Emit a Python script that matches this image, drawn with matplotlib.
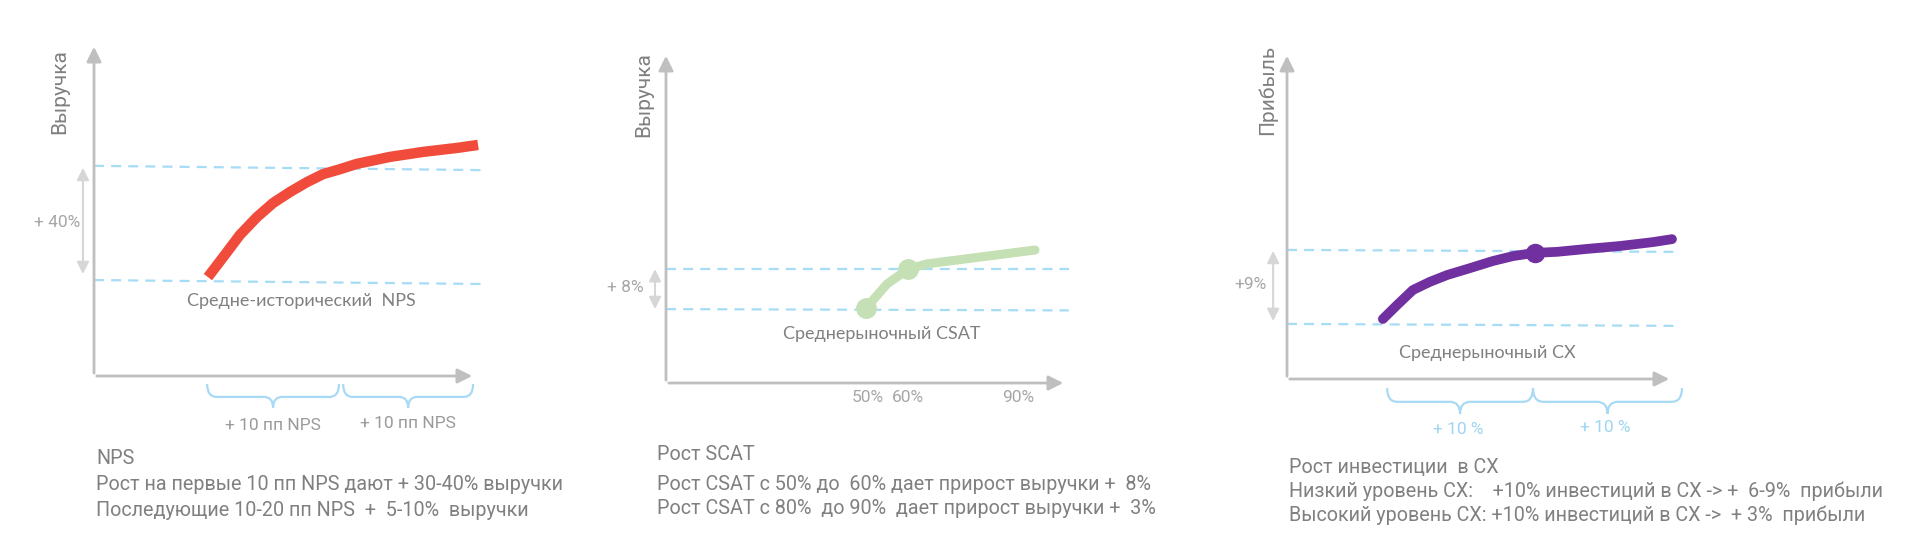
import matplotlib
matplotlib.use("Agg")
import matplotlib.pyplot as plt
from matplotlib.path import Path
from matplotlib.patches import PathPatch

plt.rcParams['font.family'] = ['Roboto', 'DejaVu Sans']

# ---- data (schematic, axis units 0..100) ----
# panel 1: NPS -> revenue
nps_x = [29.9, 33.9, 38.3, 42.8, 47.0, 51.4, 55.9, 60.1, 64.6, 69.0, 77.7, 86.4, 95.3, 100.8]
nps_y = [29.8, 35.8, 42.5, 47.9, 52.1, 55.4, 58.4, 60.8, 62.3, 63.9, 66.0, 67.5, 68.7, 69.6]
nps_levels = [(63.3, 62.0), (28.9, 27.7)]
nps_braces = [(29.7, 64.3), (65.4, 99.5)]
nps_brace_labels = ["+ 10 пп NPS", "+ 10 пп NPS"]

# panel 2: CSAT -> revenue
csat_x = [50, 55.25, 60.5, 65.25, 92.25]
csat_y = [22.7, 30.0, 34.5, 36.1, 40.3]
csat_marks = [0, 2]
csat_levels = [(34.5, 34.5), (22.4, 22.0)]
csat_ticks = [50.5, 60.5, 88]
csat_tick_labels = ["50%", "60%", "90%"]

# panel 3: CX investment -> profit
cx_x = [24.9, 28.6, 32.7, 37.1, 41.6, 47.5, 53.5, 58.7, 64.4, 70.1, 77.9, 86.5, 95.1, 100]
cx_y = [18.4, 22.7, 27.3, 29.8, 31.9, 34.0, 36.2, 37.7, 38.7, 39.0, 39.9, 40.8, 42.0, 42.9]
cx_marks = [8]
cx_levels = [(39.6, 39.0), (16.9, 16.3)]
cx_braces = [(26, 63.9), (63.9, 102.6)]
cx_brace_labels = ["+ 10 %", "+ 10 %"]

GRAY = "#808080"
AXIS = "#bfbfbf"
DASH = "#a6dcf5"
BRACE = "#a9daf5"

fig = plt.figure(figsize=(19.2, 5.41), dpi=100)


def make_ax(x0, y0, xt, yt):
    # x0,y0 origin pixel, xt arrow tip x, yt arrow tip y
    ax = fig.add_axes([x0 / 1920, 1 - y0 / 541, (xt - x0) / 1920, (y0 - yt) / 541])
    ax.set_xlim(0, 100)
    ax.set_ylim(0, 100)
    ax.axis('off')
    ax.annotate('', xy=(0, 100), xytext=(0, 0),
                arrowprops=dict(arrowstyle='-|>', color=AXIS, lw=2, mutation_scale=22), annotation_clip=False)
    ax.annotate('', xy=(100, 0), xytext=(0, 0),
                arrowprops=dict(arrowstyle='-|>', color=AXIS, lw=2, mutation_scale=22), annotation_clip=False)
    return ax


def levels(ax, lv, x1):
    for ya, yb in lv:
        ax.plot([0, x1], [ya, yb], color=DASH, lw=1.6, ls=(0, (4.5, 3.2)), clip_on=False)


def span(ax, x, y0, y1, label, lx, ly):
    ax.annotate('', xy=(x, y0), xytext=(x, y1),
                arrowprops=dict(arrowstyle='<|-|>', color="#d6d6d6", lw=1.5, mutation_scale=18,
                                shrinkA=0, shrinkB=0), annotation_clip=False)
    ax.text(lx, ly, label, color="#a6a6a6", fontsize=12.5, ha='center', va='center')


def brace(ax, x0, x1, ytop, ymid, ytip):
    xc = (x0 + x1) / 2
    r = (x1 - x0) * 0.07
    verts = [(x0, ytop), (x0, ymid), (x0 + r, ymid), (xc - r, ymid), (xc, ymid), (xc, ytip),
             (xc, ymid), (xc + r, ymid), (x1 - r, ymid), (x1, ymid), (x1, ytop)]
    codes = [Path.MOVETO, Path.CURVE3, Path.CURVE3, Path.LINETO, Path.CURVE3, Path.CURVE3,
             Path.CURVE3, Path.CURVE3, Path.LINETO, Path.CURVE3, Path.CURVE3]
    ax.add_patch(PathPatch(Path(verts, codes), fill=False, edgecolor=BRACE, lw=1.6, clip_on=False))


# ---- panel 1 ----
ax1 = make_ax(94, 376, 475, 44)
levels(ax1, nps_levels, 103)
ax1.plot(nps_x, nps_y, color="#f04b3b", lw=7.5, solid_capstyle='butt', solid_joinstyle='round', clip_on=False)
span(ax1, -2.9, 62.7, 30.7, "+ 40%", -9.6, 46.1)
ax1.text(54.3, 22.6, "Средне-исторический  NPS", color=GRAY, fontsize=13, family=['Lato', 'DejaVu Sans'],
         ha='center', va='center')
ax1.text(-8.9, 85.8, "Выручка", color=GRAY, fontsize=15, rotation=90, ha='center', va='center')
for (a, b), lab, dy in zip(nps_braces, nps_brace_labels, [0, 0.6]):
    brace(ax1, a, b, -2.4, -6.3, -9.6)
    ax1.text((a + b) / 2, -14.8 + dy, lab, color="#9a9a9a", fontsize=12.5, ha='center', va='center')

# ---- panel 2 ----
ax2 = make_ax(666, 383, 1066, 53)
levels(ax2, csat_levels, 100.7)
ax2.plot(csat_x, csat_y, color="#c5e0b4", lw=6.5, solid_capstyle='round', solid_joinstyle='round', clip_on=False)
ax2.plot([csat_x[i] for i in csat_marks], [csat_y[i] for i in csat_marks], 'o', color="#c5e0b4",
         ms=14, clip_on=False)
span(ax2, -2.75, 34.5, 22.4, "+ 8%", -10.25, 28.8)
ax2.text(54, 14.8, "Среднерыночный CSAT", color=GRAY, fontsize=13, family=['Lato', 'DejaVu Sans'],
         ha='center', va='center')
ax2.text(-5.5, 87.3, "Выручка", color=GRAY, fontsize=15, rotation=90, ha='center', va='center')
for t, lab in zip(csat_ticks, csat_tick_labels):
    ax2.text(t, -4.5, lab, color="#a6a6a6", fontsize=12.5, ha='center', va='center')

# ---- panel 3 ----
ax3 = make_ax(1287, 379, 1672, 53)
levels(ax3, cx_levels, 100.8)
ax3.plot(cx_x, cx_y, color="#7030a0", lw=7, solid_capstyle='round', solid_joinstyle='round', clip_on=False)
ax3.plot([cx_x[i] for i in cx_marks], [cx_y[i] for i in cx_marks], 'o', color="#7030a0",
         ms=13, clip_on=False)
span(ax3, -3.6, 39.3, 17.8, "+9%", -9.6, 29.1)
ax3.text(51.9, 8.0, "Среднерыночный CX", color=GRAY, fontsize=13, family=['Lato', 'DejaVu Sans'],
         ha='center', va='center')
ax3.text(-5.2, 88.7, "Прибыль", color=GRAY, fontsize=15, rotation=90, ha='center', va='center')
for (a, b), lab, dy in zip(cx_braces, cx_brace_labels, [0, 0.6]):
    brace(ax3, a, b, -2.8, -7.0, -10.7)
    ax3.text((a + b) / 2 - 0.5, -15.6 + dy, lab, color="#9fd5f0", fontsize=12.5, ha='center', va='center')

# ---- descriptions under the charts ----
notes = [
    (96, [(459, "NPS"),
          (485, "Рост на первые 10 пп NPS дают + 30-40% выручки"),
          (510, "Последующие 10-20 пп NPS  +  5-10%  выручки")]),
    (657, [(454, "Рост SCAT"),
           (485, "Рост CSAT с 50% до  60% дает прирост выручки +  8%"),
           (509, "Рост CSAT с 80%  до 90%  дает прирост выручки +  3%")]),
    (1289, [(468, "Рост инвестиции  в CX"),
            (491, "Низкий уровень CX:    +10% инвестиций в CX -> +  6-9%  прибыли"),
            (515, "Высокий уровень CX: +10% инвестиций в CX ->  + 3%  прибыли")]),
]
for x, lines in notes:
    for y, s in lines:
        fig.text(x / 1920, 1 - y / 541, s, color=GRAY, fontsize=14.2, ha='left', va='center')

fig.savefig("out.png", dpi=100)
